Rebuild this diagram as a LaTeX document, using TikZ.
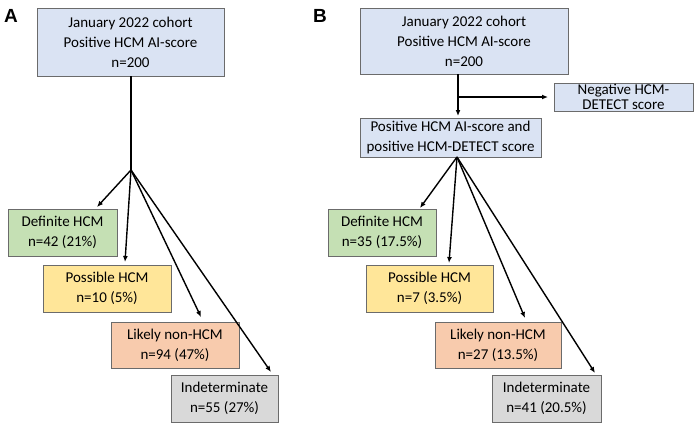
\documentclass[tikz,border=0pt]{standalone}
\usepackage{fontspec}
\setmainfont{Carlito}
\newfontfamily\labelfont{Liberation Sans}
\usetikzlibrary{arrows.meta}
\definecolor{boxblue}{HTML}{DAE3F3}
\definecolor{boxgreen}{HTML}{C5E0B4}
\definecolor{boxyellow}{HTML}{FFE699}
\definecolor{boxorange}{HTML}{F8CBAD}
\definecolor{boxgray}{HTML}{D9D9D9}
\definecolor{boxline}{HTML}{6B6B6B}
\tikzset{
  flowbox/.style={draw=boxline, line width=0.9pt, align=center, inner sep=0pt,
    font=\fontsize{15}{20}\selectfont},
  conn/.style={line width=1.4pt, black},
  arr/.style={conn, -{Latex[length=6pt,width=5pt]}},
  panellabel/.style={font=\labelfont\bfseries\fontsize{19}{19}\selectfont, inner sep=0pt}
}
\begin{document}
\begin{tikzpicture}[x=1pt,y=-1pt]
\useasboundingbox (0,0) rectangle (694,423);
\node[panellabel] (la) at (11,16) {A};
\node[panellabel] (lb) at (320,16) {B};

% ---------- Panel A ----------
\node[flowbox, fill=boxblue, minimum width=187pt, minimum height=68pt] (atop) at (130.5,42)
  {January 2022 cohort\\Positive HCM AI-score\\n=200};
\node[flowbox, fill=boxgreen, minimum width=109pt, minimum height=47pt] (adef) at (62.5,232.5)
  {Definite HCM\\n=42 (21\%)};
\node[flowbox, fill=boxyellow, minimum width=128pt, minimum height=47pt] (apos) at (107,288.5)
  {Possible HCM\\n=10 (5\%)};
\node[flowbox, fill=boxorange, minimum width=128pt, minimum height=46pt] (alik) at (175,345)
  {Likely non-HCM\\n=94 (47\%)};
\node[flowbox, fill=boxgray, minimum width=107pt, minimum height=47pt] (aind) at (224.5,398.5)
  {Indeterminate\\n=55 (27\%)};
\coordinate (abr) at (131,170);
\coordinate (atopb) at (131,76);
\coordinate (ae1) at (97,207);
\coordinate (ae2) at (125,262);
\coordinate (ae3) at (201,317);
\coordinate (ae4) at (271,372);
\draw[conn] (atopb) -- (abr);
\draw[arr] (abr) -- (ae1);
\draw[arr] (abr) -- (ae2);
\draw[arr] (abr) -- (ae3);
\draw[arr] (abr) -- (ae4);

% ---------- Panel B ----------
\node[flowbox, fill=boxblue, minimum width=208pt, minimum height=66pt] (btop) at (464,41)
  {January 2022 cohort\\Positive HCM AI-score\\n=200};
\node[flowbox, fill=boxblue, minimum width=181pt, minimum height=39pt] (bmid) at (450.5,137.5)
  {Positive HCM AI-score and\\positive HCM-DETECT score};
\node[flowbox, fill=boxblue, minimum width=139pt, minimum height=28pt,
  font=\fontsize{15}{15}\selectfont] (bneg) at (623.5,97)
  {Negative HCM-\\DETECT score};
\node[flowbox, fill=boxgreen, minimum width=108pt, minimum height=47pt] (bdef) at (382,232.5)
  {Definite HCM\\n=35 (17.5\%)};
\node[flowbox, fill=boxyellow, minimum width=127pt, minimum height=47pt] (bpos) at (429.5,288.5)
  {Possible HCM\\n=7 (3.5\%)};
\node[flowbox, fill=boxorange, minimum width=126pt, minimum height=46pt] (blik) at (498,345)
  {Likely non-HCM\\n=27 (13.5\%)};
\node[flowbox, fill=boxgray, minimum width=109pt, minimum height=47pt] (bind) at (546.5,398.5)
  {Indeterminate\\n=41 (20.5\%)};
\coordinate (btopb) at (458,74);
\coordinate (bsplit) at (458,97);
\coordinate (bmidt) at (458,116);
\coordinate (bnege) at (548,97);
\coordinate (bbr) at (457,157);
\coordinate (be1) at (420,208);
\coordinate (be2) at (449,263);
\coordinate (be3) at (525,318);
\coordinate (be4) at (595,373);
\draw[arr] (btopb) -- (bmidt);
\draw[arr] (bsplit) -- (bnege);
\draw[arr] (bbr) -- (be1);
\draw[arr] (bbr) -- (be2);
\draw[arr] (bbr) -- (be3);
\draw[arr] (bbr) -- (be4);
\end{tikzpicture}
\end{document}
